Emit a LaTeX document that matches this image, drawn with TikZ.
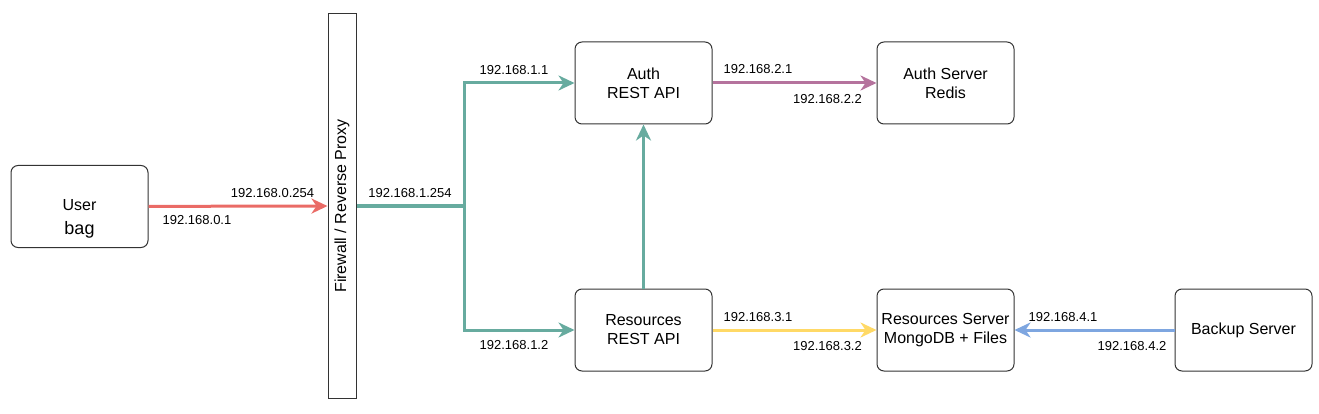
\documentclass[tikz,border=0pt]{standalone}
\usepackage{fontspec}
\setmainfont{Liberation Sans}
\usetikzlibrary{arrows.meta}

\definecolor{boxgray}{HTML}{333333}
\definecolor{wirered}{HTML}{EA6B66}
\definecolor{wiregreen}{HTML}{67AB9F}
\definecolor{wirepurple}{HTML}{B5739D}
\definecolor{wireyellow}{HTML}{FFD966}
\definecolor{wireblue}{HTML}{7EA6E0}

\tikzset{
  box/.style={draw=boxgray, line width=1pt, rounded corners=7pt,
    minimum width=137pt, minimum height=82pt, align=center,
    font=\fontsize{16}{19}\selectfont},
  wallbox/.style={draw=boxgray, line width=1pt, minimum width=384pt,
    minimum height=28pt, font=\fontsize{16}{19}\selectfont},
  ip/.style={font=\fontsize{13}{15}\selectfont, inner sep=0pt},
  wire/.style={line width=3pt, -{Stealth[length=16pt,width=15pt,inset=5pt]}},
}

\begin{document}
\begin{tikzpicture}[x=1pt,y=-1pt]
	\useasboundingbox (0,0) rectangle (1319,414);
	%Machines
	\node[box, label={[align=center, yshift=-12pt, font=\fontsize{16}{19}\selectfont]center:{User\\[5pt]{\fontsize{18}{20}\selectfont bag}}}] (user) at (79.5,206.5) {};
	\node[wallbox, rotate=90] (proxy) at (342,206) {Firewall / Reverse Proxy};
	\node[box] (authapi) at (643.5,83) {Auth\\REST API};
	\node[box] (authdb) at (945.5,83) {Auth Server\\Redis};
	\node[box] (resapi) at (643.5,330) {Resources\\REST API};
	\node[box] (resdb) at (945.5,330) {Resources Server\\MongoDB + Files};
	\node[box] (backup) at (1243.5,330) {Backup Server};
	\coordinate (split) at (464,206);
	%Links
	\draw[wire, wirered] (user) -- (proxy);
	\draw[wiregreen, line width=3pt] (proxy) -- (split);
	\draw[wire, wiregreen] (split) |- (authapi);
	\draw[wire, wiregreen] (split) |- (resapi);
	\draw[wire, wiregreen] (resapi) -- (authapi);
	\draw[wire, wirepurple] (authapi) -- (authdb);
	\draw[wire, wireyellow] (resapi) -- (resdb);
	\draw[wire, wireblue] (backup) -- (resdb);
	%Addresses
	\node[ip] (ip0a) at (272.5,193) {192.168.0.254};
	\node[ip] (ip0b) at (197,220) {192.168.0.1};
	\node[ip] (ip1a) at (410,193) {192.168.1.254};
	\node[ip] (ip1b) at (514,70) {192.168.1.1};
	\node[ip] (ip1c) at (514,345) {192.168.1.2};
	\node[ip] (ip2a) at (758,69) {192.168.2.1};
	\node[ip] (ip2b) at (827.5,99) {192.168.2.2};
	\node[ip] (ip3a) at (758,317) {192.168.3.1};
	\node[ip] (ip3b) at (827.5,346) {192.168.3.2};
	\node[ip] (ip4a) at (1063,317) {192.168.4.1};
	\node[ip] (ip4b) at (1132,346) {192.168.4.2};
\end{tikzpicture}
\end{document}
